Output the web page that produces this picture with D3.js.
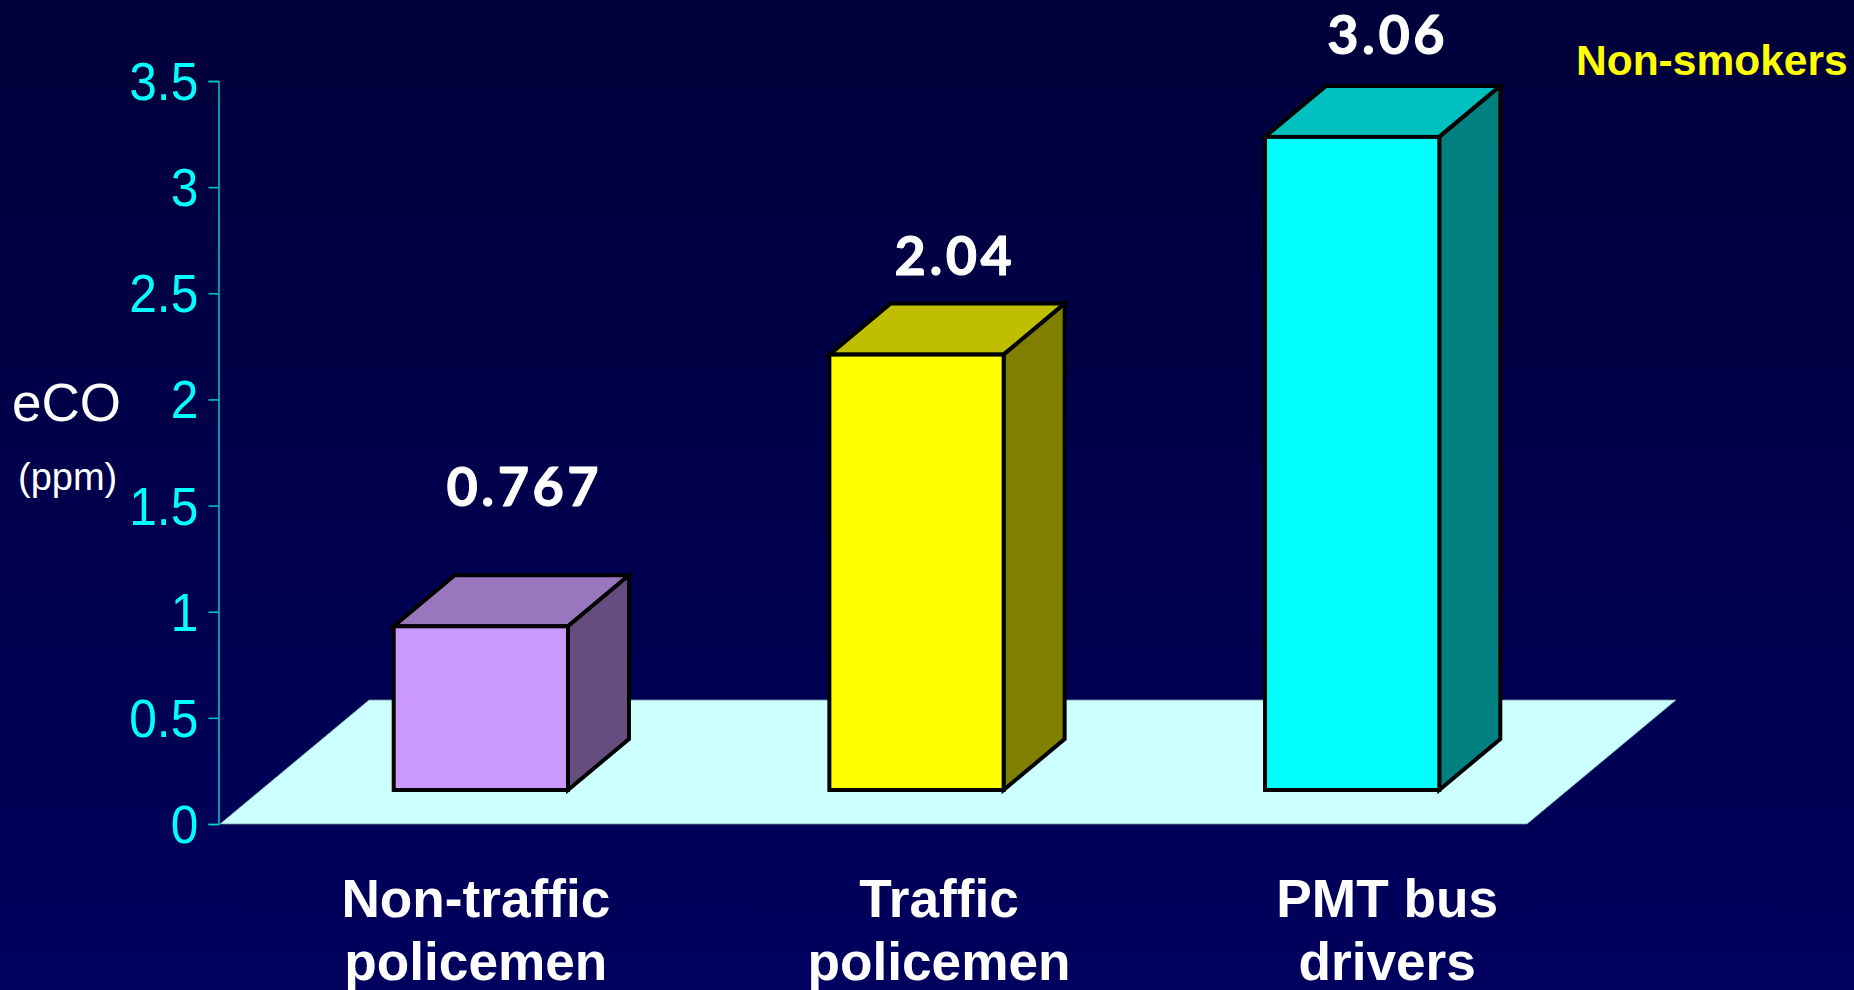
<!DOCTYPE html>
<html>
<head>
<meta charset="utf-8">
<title>Exhaled carbon monoxide in non-smokers</title>
<script src="https://cdn.jsdelivr.net/npm/d3@7/dist/d3.min.js"></script>
<style>
  html, body { margin: 0; padding: 0; background: #000050; overflow: hidden; }
  svg { display: block; }
  text { font-family: "Liberation Sans", Arial, sans-serif; }
</style>
</head>
<body>
<svg id="chart" width="1854" height="990"></svg>
<script>
// Chart content
const categories = ["Non-traffic policemen", "Traffic policemen", "PMT bus drivers"];
const categoryLines = [["Non-traffic", "policemen"], ["Traffic", "policemen"], ["PMT bus", "drivers"]];
const eco = [0.767, 2.04, 3.06];
const tickValues = [0, 0.5, 1, 1.5, 2, 2.5, 3, 3.5];
const tickLabels = ["0", "0.5", "1", "1.5", "2", "2.5", "3", "3.5"];

// Box faces: front, top, side
const frontColors = ["#CC99FF", "#FFFF00", "#00FFFF"];
const topColors = ["#9977BF", "#BFBF00", "#00BFBF"];
const sideColors = ["#664D80", "#808000", "#008080"];

// Hand-placed label offsets, one per box
const valueLift = [120, 80, 83];
const valueShift = [13, 8, 5];
const categoryShift = [38, 65.5, 78];

const svg = d3.select("#chart");

const defs = svg.append("defs");
const grad = defs.append("linearGradient")
  .attr("id", "backdrop").attr("x1", 0).attr("y1", 0).attr("x2", 0).attr("y2", 1);
grad.append("stop").attr("offset", "0%").attr("stop-color", "#00003A");
grad.append("stop").attr("offset", "100%").attr("stop-color", "#00005E");
svg.append("rect").attr("width", 1854).attr("height", 990).attr("fill", "url(#backdrop)");

// Scales
const y = d3.scaleLinear().domain([0, 3.5]).range([824, 81]);
const barHeight = d3.scaleLinear().domain([0, 3.5]).range([0, 747]);
const x = d3.scaleBand().domain(categories).range([220, 1527]).paddingInner(0.6).paddingOuter(0.3);

// Oblique projection offsets
const floorDepth = { dx: 149, dy: -124 };
const boxInset = { dx: 43, dy: -34 };
const boxDepth = { dx: 61, dy: -51 };

const baseY = y(0);
const [xMin, xMax] = x.range();

// Floor of the plot
svg.append("polygon")
  .attr("points", [
    [xMin, baseY], [xMax, baseY],
    [xMax + floorDepth.dx, baseY + floorDepth.dy],
    [xMin + floorDepth.dx, baseY + floorDepth.dy]
  ].join(" "))
  .attr("fill", "#CCFFFF")
  .attr("stroke", "#6f9f9f")
  .attr("stroke-width", 0.8);

// Value axis
const axis = d3.axisLeft(y)
  .tickValues(tickValues)
  .tickFormat((d, i) => tickLabels[i])
  .tickSize(10);
const axisG = svg.append("g")
  .attr("transform", "translate(218.5,0)")
  .call(axis);
axisG.selectAll("path, line").attr("stroke", "#00CCCC").attr("stroke-width", 1.5);
axisG.selectAll("text")
  .attr("fill", "#00FFFF")
  .attr("font-size", 54)
  .attr("font-family", "'Liberation Sans', Arial, sans-serif")
  .attr("x", -22)
  .attr("dy", 18.5)
  .attr("transform", "scale(0.92,1)");

// Boxes
const boxes = svg.append("g").selectAll("g").data(categories).join("g");
boxes.each(function (cat, i) {
  const g = d3.select(this);
  const left = x(cat) + boxInset.dx;
  const right = left + x.bandwidth();
  const bottom = baseY + boxInset.dy;
  const top = bottom - barHeight(eco[i]);
  const { dx, dy } = boxDepth;
  const style = s => s.attr("stroke", "#000").attr("stroke-width", 4).attr("stroke-linejoin", "miter");
  g.append("polygon")
    .attr("points", [[left, top], [right, top], [right + dx, top + dy], [left + dx, top + dy]].join(" "))
    .attr("fill", topColors[i]).call(style);
  g.append("polygon")
    .attr("points", [[right, top], [right + dx, top + dy], [right + dx, bottom + dy], [right, bottom]].join(" "))
    .attr("fill", sideColors[i]).call(style);
  g.append("rect")
    .attr("x", left).attr("y", top).attr("width", right - left).attr("height", bottom - top)
    .attr("fill", frontColors[i]).call(style);
  // Value above the box
  g.append("text")
    .attr("x", (left + right) / 2 + dx / 2 + valueShift[i])
    .attr("y", top - valueLift[i])
    .attr("text-anchor", "middle")
    .attr("fill", "#fff")
    .attr("stroke", "#fff")
    .attr("stroke-width", 1)
    .attr("stroke-linejoin", "round")
    .attr("font-size", 54)
    .attr("font-weight", 700)
    .style("font-family", "Lato, sans-serif")
    .style("letter-spacing", "3.5px")
    .text(eco[i]);
  // Category name below the floor
  const label = g.append("text")
    .attr("text-anchor", "middle")
    .attr("fill", "#fff")
    .attr("font-size", 53.2)
    .attr("font-weight", 700);
  categoryLines[i].forEach((line, k) => {
    label.append("tspan")
      .attr("x", x(cat) + x.bandwidth() / 2 + categoryShift[i])
      .attr("y", 917 + k * 63)
      .text(line);
  });
});

// Axis title and unit
svg.append("text").attr("x", 12).attr("y", 421).attr("fill", "#fff").attr("font-size", 53).text("eCO");
svg.append("text").attr("x", 18).attr("y", 490).attr("fill", "#fff").attr("font-size", 38).text("(ppm)");

// Group note
svg.append("text").attr("x", 1576).attr("y", 75).attr("fill", "#FFFF00")
  .attr("font-size", 42.5).attr("font-weight", 700).text("Non-smokers");
</script>
</body>
</html>
